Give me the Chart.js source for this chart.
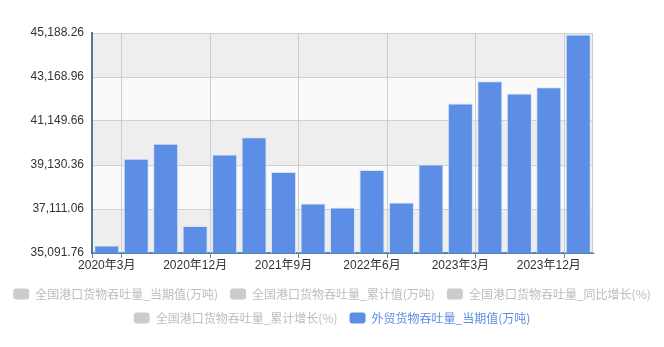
<!DOCTYPE html>
<html>
<head>
<meta charset="utf-8">
<script src="https://cdn.jsdelivr.net/npm/chart.js@4.4.0/dist/chart.umd.min.js"></script>
<style>
  html, body { margin: 0; padding: 0; background: #ffffff; }
  #wrap { width: 664px; height: 347px; }
</style>
</head>
<body>
<div id="wrap"><canvas id="c" width="664" height="347"></canvas></div>
<script>
// Quarter-end months
const months = [
  '2020年3月', '2020年6月', '2020年9月', '2020年12月',
  '2021年3月', '2021年6月', '2021年9月', '2021年12月',
  '2022年3月', '2022年6月', '2022年9月', '2022年12月',
  '2023年3月', '2023年6月', '2023年9月', '2023年12月',
  '2024年3月'
];

// 外贸货物吞吐量_当期值 (万吨)
const tradeThroughput = [
  35440, 39414, 40101, 36329,
  39611, 40408, 38804, 37365,
  37182, 38896, 37411, 39153,
  41948, 42975, 42407, 42700,
  45120
];

// Value axis ticks
const yTicks = [35091.76, 37111.06, 39130.36, 41149.66, 43168.96, 45188.26];

// Legend entries (only the last one is switched on)
const seriesNames = [
  '全国港口货物吞吐量_当期值(万吨)',
  '全国港口货物吞吐量_累计值(万吨)',
  '全国港口货物吞吐量_同比增长(%)',
  '全国港口货物吞吐量_累计增长(%)',
  '外贸货物吞吐量_当期值(万吨)'
];

const labelEvery = 3;
const BLUE = '#5c8ee6';
const OFF = '#cccccc';
const AXIS_FONT = '"Liberation Sans", Arial, "Noto Sans CJK SC", sans-serif';
const CJK_FONT = '"Noto Sans CJK SC", "Liberation Sans", sans-serif';

// Banded background, category-boundary grid lines and axis tick marks
const plotDecor = {
  id: 'plotDecor',
  beforeDraw(chart) {
    const { ctx, chartArea: a, scales: { y } } = chart;
    ctx.save();
    for (let i = 0; i < yTicks.length - 1; i++) {
      const y0 = y.getPixelForValue(yTicks[i]);
      const y1 = y.getPixelForValue(yTicks[i + 1]);
      ctx.fillStyle = i % 2 === 0 ? '#eeeeee' : '#fafafa';
      ctx.fillRect(a.left, y1, a.right - a.left, y0 - y1);
    }
    ctx.restore();
  },
  beforeDatasetsDraw(chart) {
    const { ctx, chartArea: a, scales: { x } } = chart;
    const half = (x.getPixelForValue(1) - x.getPixelForValue(0)) / 2;
    ctx.save();
    ctx.strokeStyle = '#cccccc';
    ctx.lineWidth = 1;
    ctx.beginPath();
    const marks = [];
    for (let i = 0; i < months.length; i += labelEvery) {
      const px = Math.round(x.getPixelForValue(i) + half) + 0.5;
      marks.push(px);
      ctx.moveTo(px, a.top);
      ctx.lineTo(px, a.bottom);
    }
    ctx.moveTo(Math.round(a.right) - 0.5, a.top);
    ctx.lineTo(Math.round(a.right) - 0.5, a.bottom);
    ctx.stroke();

    ctx.strokeStyle = '#4f86b0';
    ctx.lineWidth = 1;
    ctx.beginPath();
    [Math.round(a.left) + 0.5, ...marks].forEach(px => {
      ctx.moveTo(px, a.bottom);
      ctx.lineTo(px, a.bottom + 5);
    });
    ctx.stroke();
    ctx.restore();
  }
};

const datasets = seriesNames.map((name, i) => {
  const active = i === seriesNames.length - 1;
  return {
    label: name,
    data: active ? tradeThroughput : [],
    hidden: !active,
    backgroundColor: active ? BLUE : OFF,
    borderColor: '#d9e4f7',
    borderWidth: active ? 1 : 0,
    barPercentage: 0.85,
    categoryPercentage: 1.0
  };
});

new Chart(document.getElementById('c'), {
  type: 'bar',
  data: { labels: months, datasets },
  options: {
    responsive: false,
    animation: false,
    devicePixelRatio: 1,
    layout: { padding: { top: 33, bottom: 13, left: 0, right: 0 } },
    plugins: {
      tooltip: { enabled: false },
      legend: {
        position: 'bottom',
        labels: {
          boxWidth: 16,
          boxHeight: 11,
          padding: 12,
          useBorderRadius: true,
          borderRadius: 3,
          font: { family: CJK_FONT, size: 12 },
          generateLabels(chart) {
            return chart.data.datasets.map((ds, i) => {
              const on = chart.isDatasetVisible(i);
              return {
                text: ds.label,
                fillStyle: on ? BLUE : OFF,
                strokeStyle: on ? BLUE : OFF,
                lineWidth: 0,
                hidden: false,
                fontColor: on ? BLUE : '#bdbdbd',
                borderRadius: 3,
                datasetIndex: i
              };
            });
          }
        }
      }
    },
    scales: {
      x: {
        grid: { display: false, drawTicks: false },
        border: { display: true, color: '#4f86b0', width: 2 },
        ticks: {
          autoSkip: false,
          maxRotation: 0,
          padding: 5,
          color: '#333333',
          font: { family: AXIS_FONT, size: 12 },
          callback: (v, i) => (i % labelEvery === 0 ? months[i] : null)
        },
        afterFit: s => { s.height = 23; }
      },
      y: {
        min: yTicks[0],
        max: yTicks[yTicks.length - 1],
        afterBuildTicks: s => { s.ticks = yTicks.map(v => ({ value: v })); },
        afterFit: s => { s.width = 92; },
        grid: { color: '#d0d0d0', drawTicks: false },
        border: { display: true, color: '#4f7b8c', width: 2 },
        ticks: {
          padding: 8,
          color: '#333333',
          font: { family: AXIS_FONT, size: 12 },
          callback: v => Number(v).toLocaleString('en-US', { minimumFractionDigits: 2, maximumFractionDigits: 2 })
        }
      },
      yR: {
        position: 'right',
        display: true,
        grid: { display: false, drawTicks: false },
        border: { display: false },
        ticks: { display: false },
        afterFit: s => { s.width = 71; }
      }
    }
  },
  plugins: [plotDecor]
});
</script>
</body>
</html>
